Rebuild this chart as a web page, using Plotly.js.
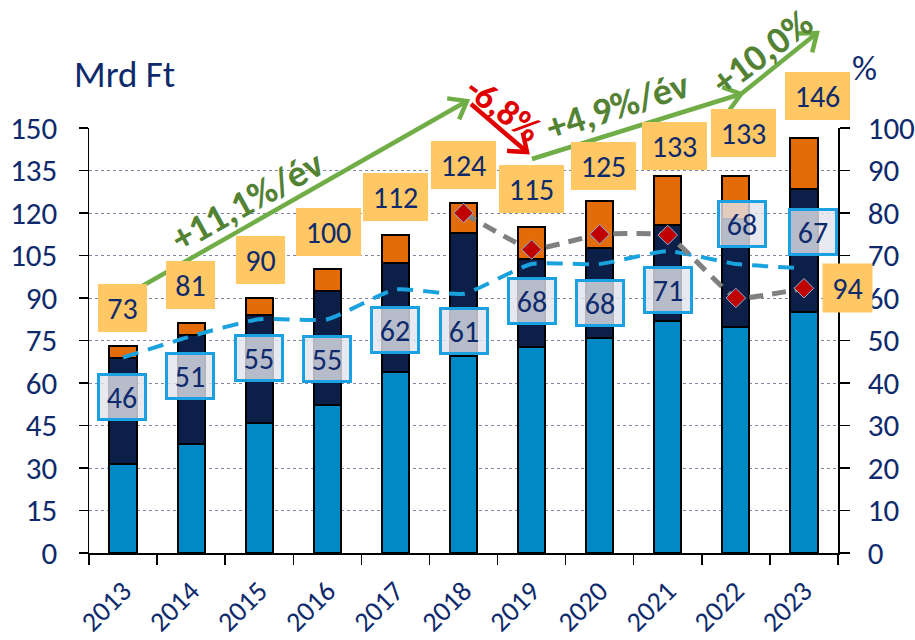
<!DOCTYPE html>
<html>
<head>
<meta charset="utf-8">
<script src="https://cdn.plot.ly/plotly-3.0.1.min.js"></script>
<style>html,body{margin:0;padding:0;background:#fff;}#chart{width:915px;height:640px;}</style>
</head>
<body>
<div id="chart"></div>
<script>
// ---- data ----
var years = ['2013','2014','2015','2016','2017','2018','2019','2020','2021','2022','2023'];
var partLightBlue = [31.4, 38.5, 45.8, 52.2, 64.0, 69.5, 72.8, 75.8, 81.9, 79.9, 85.2];
var partNavy      = [37.6, 38.5, 38.2, 40.4, 38.5, 43.3, 30.9, 32.0, 33.9, 38.0, 43.2];
var partOrange    = [4.2, 4.3, 6.0, 7.5, 9.7, 10.8, 11.5, 16.6, 17.2, 15.1, 18.0];
var totalLabels   = [73, 81, 90, 100, 112, 124, 115, 125, 133, 133, 146];
var shareValues   = [46, 51, 55, 55, 62, 61, 68, 68, 71, 68, 67];
var greyValues    = [null, null, null, null, null, 80, 71.4, 75, 74.8, 60, 62.3];
var greyExtraLabel = '94';
var leftTicks  = [0, 15, 30, 45, 60, 75, 90, 105, 120, 135, 150];
var rightTicks = [0, 10, 20, 30, 40, 50, 60, 70, 80, 90, 100];
var growthTexts = ['+11,1%/év', '-6,8%', '+4,9%/év', '+10,0%'];

// ---- layout helpers (pixel geometry) ----
var L = 89, R = 838, T = 128, B = 553;
function PX(x){ return (x - L) / (R - L); }
function PY(y){ return (B - y) / (B - T); }

var navy = '#0E2A6C';
var FONT = 'Carlito, Lato, "Open Sans", sans-serif';

var traces = [
  {type:'bar', x: years, y: partLightBlue, width:0.4, marker:{color:'#0089C4', line:{color:'#000', width:2}}, hoverinfo:'skip'},
  {type:'bar', x: years, y: partNavy, width:0.4, marker:{color:'#0C1F48', line:{color:'#000', width:2}}, hoverinfo:'skip'},
  {type:'bar', x: years, y: partOrange, width:0.4, marker:{color:'#E36C09', line:{color:'#000', width:2}}, hoverinfo:'skip'},
  {type:'scatter', mode:'lines', x: years, y: shareValues, yaxis:'y2',
   line:{color:'#1AA2DE', width:4, dash:'16px,10px', shape:'spline', smoothing:0.5}, hoverinfo:'skip'},
  {type:'scatter', mode:'lines+markers', x: years, y: greyValues, yaxis:'y2',
   line:{color:'#808080', width:5, dash:'14px,9px', shape:'spline', smoothing:0.3},
   marker:{symbol:'diamond', size:15, color:'#C00000', line:{color:'#8DB4E2', width:1}}, hoverinfo:'skip'}
];

var totDx = [-1, -1, 1, 1, 0, 0, 0, 4, 7, 8, 14];
var totDy = [38, 38.5, 38, 37.7, 38.7, 36.7, 38.2, 32.8, 30.2, 43.2, 43.3];
var shDx  = [-1, -1, 0, 0, 0, 0, 0, 0, 0, 6, 9];
var shDy  = [-39.5, -40, -39, -40, -40.5, -37, -37, -39, -39, 40, 36];

var ann = [];
var labelFont = {family: FONT, size: 30, color: navy};
for (var i = 0; i < years.length; i++) {
  var t = String(totalLabels[i]);
  ann.push({x: i, y: totalLabels[i], xref:'x', yref:'y', text: t, showarrow:false, xanchor:'center', yanchor:'middle',
    xshift: totDx[i], yshift: totDy[i], bgcolor:'#FFC864', borderpad:0, borderwidth:0,
    width: t.length > 2 ? 65 : 49, height: 48, font: labelFont});
  ann.push({x: i, y: shareValues[i], xref:'x', yref:'y2', text: String(shareValues[i]), showarrow:false, xanchor:'center', yanchor:'middle',
    xshift: shDx[i], yshift: shDy[i], bgcolor:'rgba(226,228,236,0.8)', bordercolor:'#1BA1E2', borderwidth:3, borderpad:0,
    width: 44, height: 42, font: labelFont});
}
ann.push({x: 10, y: greyValues[10], xref:'x', yref:'y2', text: greyExtraLabel, showarrow:false, xanchor:'center', yanchor:'middle',
  xshift: 44, yshift: 0, bgcolor:'#FFC864', borderpad:0, width:49, height:48, font: labelFont});

// axis titles
ann.push({x: PX(124), y: PY(75), xref:'paper', yref:'paper', text:'Mrd Ft', showarrow:false, xanchor:'center', yanchor:'middle',
  font:{family: FONT, size:37, color: navy}});
ann.push({x: PX(864), y: PY(68), xref:'paper', yref:'paper', text:'%', showarrow:false, xanchor:'center', yanchor:'middle',
  font:{family: FONT, size:35, color: navy}});

// growth texts
var gGreen = '#548235', gRed = '#E00000';
ann.push({x: PX(247), y: PY(201), xref:'paper', yref:'paper', text: growthTexts[0], showarrow:false, textangle:-29,
  xanchor:'center', yanchor:'middle', font:{family: FONT, size:38, color: gGreen, weight:700}});
ann.push({x: PX(503), y: PY(109), xref:'paper', yref:'paper', text: growthTexts[1], showarrow:false, textangle:37,
  xanchor:'center', yanchor:'middle', font:{family: FONT, size:36, color: gRed, weight:700}});
ann.push({x: PX(617), y: PY(106), xref:'paper', yref:'paper', text: growthTexts[2], showarrow:false, textangle:-18,
  xanchor:'center', yanchor:'middle', font:{family: FONT, size:38, color: gGreen, weight:700}});
ann.push({x: PX(762), y: PY(52), xref:'paper', yref:'paper', text: growthTexts[3], showarrow:false, textangle:-37,
  xanchor:'center', yanchor:'middle', font:{family: FONT, size:38, color: gGreen, weight:700}});

// arrows as shapes
var shapes = [];
function arrow(x1, y1, x2, y2, color) {
  var ang = Math.atan2(y2 - y1, x2 - x1);
  var len = 20, spread = 0.65;
  var ax = x2 - len * Math.cos(ang - spread), ay = y2 - len * Math.sin(ang - spread);
  var bx = x2 - len * Math.cos(ang + spread), by = y2 - len * Math.sin(ang + spread);
  shapes.push({type:'path', xref:'paper', yref:'paper', layer:'above',
    path: 'M' + PX(x1) + ',' + PY(y1) + 'L' + PX(x2) + ',' + PY(y2),
    line:{color: color, width:4.5}});
  shapes.push({type:'path', xref:'paper', yref:'paper', layer:'above',
    path: 'M' + PX(ax) + ',' + PY(ay) + 'L' + PX(x2) + ',' + PY(y2) + 'L' + PX(bx) + ',' + PY(by),
    line:{color: color, width:4.5}});
}
arrow(123, 297, 467, 101, '#70AD47');
arrow(471, 104, 527, 152, '#E00000');
arrow(532, 159, 741, 94, '#70AD47');
arrow(741, 94, 817, 33, '#70AD47');

var layout = {
  width: 915, height: 640,
  margin: {l: L, r: 915 - R, t: T, b: 640 - B, pad: 0},
  paper_bgcolor: '#fff', plot_bgcolor: '#fff',
  barmode: 'stack', bargap: 0.6, showlegend: false,
  font: {family: FONT, color: navy},
  xaxis: {type:'category', range:[-0.5, 10.5], tickson:'boundaries', ticks:'outside', ticklen:10, tickwidth:1.5,
    tickcolor:'#000', showline:true, linecolor:'#000', linewidth:1.5, showgrid:false, tickangle:-45,
    tickfont:{family: FONT, size:28, color: navy}, ticklabelstandoff: 9},
  yaxis: {range:[0,150], tickvals: leftTicks, ticks:'outside', ticklen:9, tickwidth:1.5, tickcolor:'#000',
    showline:true, linecolor:'#000', linewidth:1.5, showgrid:true, gridcolor:'#7F86A3', gridwidth:1, griddash:'dot',
    zeroline:false, tickfont:{family: FONT, size:31, color: navy}, ticklabelstandoff: 15},
  yaxis2: {range:[0,100], tickvals: rightTicks, overlaying:'y', side:'right', ticks:'outside', ticklen:10, tickwidth:1.5,
    tickcolor:'#000', showline:true, linecolor:'#000', linewidth:1.5, showgrid:false, zeroline:false,
    tickfont:{family: FONT, size:31, color: navy}, ticklabelstandoff: 12},
  annotations: ann,
  shapes: shapes
};

Plotly.newPlot('chart', traces, layout, {displayModeBar:false, staticPlot:true});
</script>
</body>
</html>
